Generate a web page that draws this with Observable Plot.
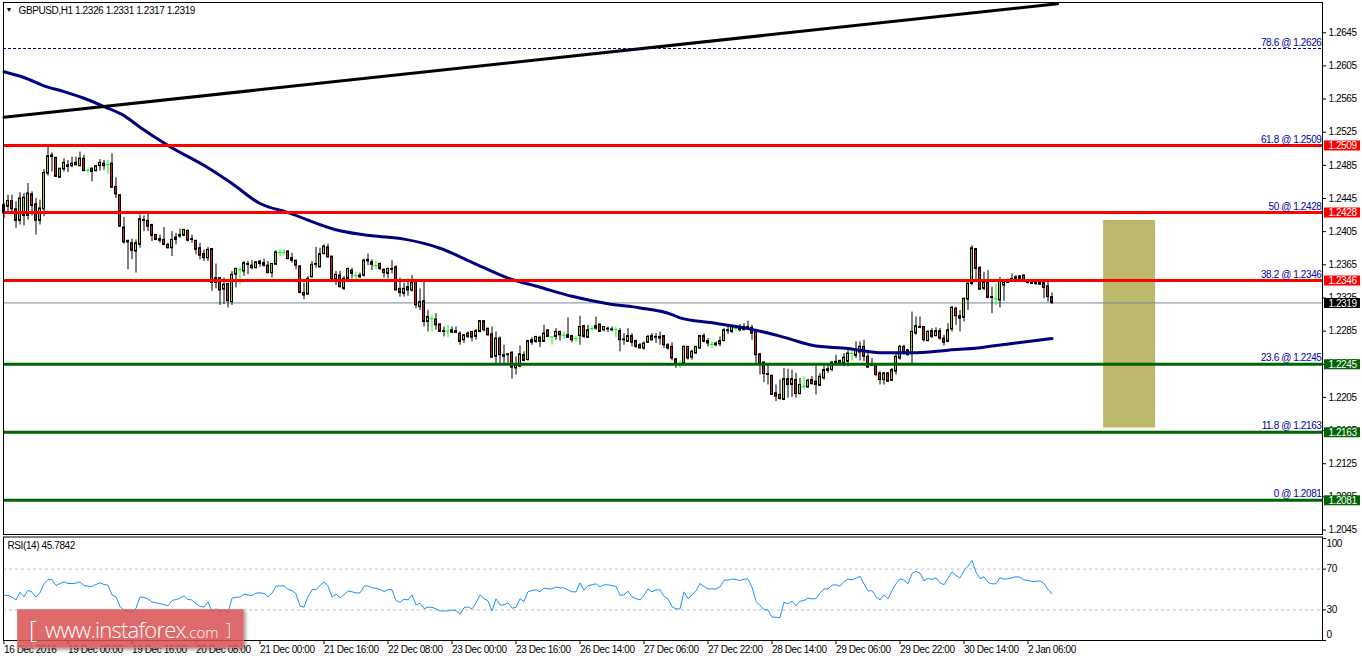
<!DOCTYPE html>
<html><head><meta charset="utf-8">
<script src="https://cdn.jsdelivr.net/npm/d3@7"></script>
<script src="https://cdn.jsdelivr.net/npm/@observablehq/plot@0.6"></script>
<style>
html,body{margin:0;padding:0;background:#fff;overflow:hidden}
#wrap{position:relative;width:1362px;height:661px}
svg{display:block}
#wm{position:absolute;left:17px;top:609px;width:227px;height:39px;box-sizing:border-box;background:rgba(218,82,84,.86);box-shadow:2px 2px 3px rgba(0,0,0,.35);border:1px solid rgba(255,255,255,.18);color:#fff;font-family:"Open Sans",sans-serif;white-space:nowrap}
#wm span{position:absolute;top:4px;line-height:30px}
</style></head><body>
<div id="wrap"><div id="main"></div><div id="rsi"></div>
<div id="wm"><span style="left:11px;font-size:24px;font-weight:300">[</span><span style="left:27px;font-size:22px;letter-spacing:-.75px;font-weight:300">www.instaforex<span style="position:static;font-size:15px;letter-spacing:0">.com</span></span><span style="left:208px;font-size:16px;font-weight:300">]</span></div>
</div>
<script>
// Candle values in pips: price = 1 + pips / 10000
const highs = [2439,2449,2449,2441,2452,2451,2463,2453,2445,2443,
2480,2507,2500,2495,2481,2493,2491,2495,2495,2501,
2497,2482,2482,2484,2492,2491,2491,2499,2470,2449,
2422,2394,2396,2395,2425,2424,2426,2414,2401,2401,
2410,2391,2405,2403,2408,2408,2407,2401,2394,2391,
2383,2386,2384,2366,2349,2349,2342,2357,2361,2361,
2369,2369,2370,2369,2370,2372,2369,2366,2382,2383,
2383,2382,2379,2370,2364,2343,2351,2369,2386,2385,
2389,2390,2375,2357,2357,2351,2361,2361,2356,2355,
2372,2378,2371,2369,2367,2360,2361,2370,2364,2349,
2343,2348,2352,2346,2336,2344,2310,2304,2306,2294,
2290,2292,2290,2290,2284,2280,2284,2284,2287,2298,
2297,2288,2290,2284,2278,2268,2258,2260,2254,2267,
2260,2273,2277,2278,2279,2292,2286,2278,2288,2285,
2284,2301,2280,2279,2303,2292,2292,2291,2302,2293,
2290,2290,2290,2289,2288,2282,2288,2282,2274,2270,
2272,2280,2282,2282,2284,2279,2270,2271,2252,2249,
2267,2266,2262,2266,2280,2282,2276,2272,2272,2278,
2288,2290,2292,2290,2293,2294,2297,2292,2284,2258,
2248,2244,2232,2220,2226,2240,2239,2238,2234,2228,
2230,2227,2230,2243,2234,2243,2244,2248,2256,2250,
2258,2262,2260,2272,2272,2274,2258,2252,2246,2236,
2235,2235,2240,2260,2268,2268,2262,2308,2302,2302,
2290,2286,2288,2289,2288,2280,2294,2315,2314,2310,
2325,2346,2388,2384,2363,2356,2358,2338,2342,2350,
2346,2348,2354,2352,2352,2353,2347,2347,2345,2346,2344,2344,2331];
const lows = [2421,2427,2429,2409,2413,2412,2419,2424,2401,2413,
2423,2472,2477,2471,2470,2477,2476,2482,2485,2483,
2478,2476,2465,2477,2478,2479,2474,2458,2445,2410,
2390,2359,2371,2355,2385,2405,2405,2393,2394,2391,
2388,2384,2375,2389,2397,2399,2393,2391,2377,2371,
2369,2369,2333,2336,2316,2317,2313,2316,2337,2341,
2351,2353,2359,2360,2362,2362,2354,2349,2365,2375,
2376,2371,2367,2359,2330,2323,2329,2349,2361,2361,
2377,2373,2345,2340,2337,2334,2346,2348,2347,2348,
2350,2364,2358,2359,2358,2349,2348,2354,2334,2326,
2326,2327,2332,2312,2310,2290,2284,2284,2286,2284,
2278,2277,2282,2282,2268,2270,2276,2272,2274,2283,
2284,2279,2252,2246,2246,2246,2246,2227,2232,2241,
2248,2249,2268,2270,2265,2272,2278,2268,2274,2273,
2275,2276,2271,2272,2268,2276,2276,2285,2286,2284,
2284,2283,2284,2277,2260,2268,2272,2266,2264,2264,
2262,2270,2273,2270,2268,2264,2262,2249,2240,2240,
2245,2250,2250,2257,2263,2271,2266,2264,2266,2266,
2272,2281,2282,2285,2284,2286,2287,2274,2246,2232,
2223,2220,2208,2200,2202,2202,2204,2205,2204,2208,
2214,2216,2220,2208,2218,2226,2234,2236,2244,2244,
2242,2242,2249,2252,2249,2248,2240,2242,2230,2220,
2220,2223,2224,2232,2250,2256,2255,2246,2280,2288,
2272,2272,2276,2278,2274,2267,2271,2284,2292,2284,
2296,2310,2340,2344,2334,2334,2324,2306,2316,2313,
2321,2343,2346,2346,2346,2345,2342,2342,2340,2340,2324,2320,2317];
const opens = [2427,2435,2442,2432,2418,2424,2424,2450,2438,2418,
2432,2475,2497,2494,2470,2480,2485,2484,2488,2484,
2493,2479,2481,2478,2484,2487,2486,2487,2459,2449,
2410,2394,2391,2381,2389,2419,2418,2413,2401,2396,
2395,2389,2385,2395,2401,2400,2406,2396,2394,2385,
2378,2373,2384,2349,2349,2335,2342,2320,2353,2359,
2357,2366,2364,2361,2366,2367,2364,2355,2365,2380,
2380,2381,2373,2370,2363,2331,2329,2350,2366,2362,
2378,2386,2375,2347,2352,2336,2348,2358,2352,2352,
2352,2371,2368,2364,2366,2359,2354,2360,2362,2336,
2330,2338,2334,2345,2314,2321,2296,2300,2299,2293,
2285,2285,2283,2285,2282,2274,2278,2284,2278,2284,
2297,2288,2281,2254,2276,2256,2257,2259,2240,2242,
2256,2250,2271,2272,2277,2272,2286,2278,2278,2284,
2280,2280,2279,2276,2279,2291,2277,2288,2288,2293,
2286,2288,2287,2287,2285,2275,2272,2279,2273,2268,
2264,2271,2279,2278,2278,2279,2268,2266,2251,2246,
2246,2266,2253,2258,2264,2279,2273,2269,2268,2269,
2273,2286,2284,2288,2288,2286,2290,2289,2284,2257,
2247,2233,2231,2210,2208,2202,2227,2220,2226,2209,
2218,2217,2226,2224,2219,2228,2239,2238,2248,2249,
2246,2248,2258,2255,2259,2266,2254,2244,2245,2234,
2226,2234,2225,2236,2252,2266,2262,2257,2282,2290,
2290,2273,2285,2279,2285,2276,2272,2287,2312,2303,
2301,2323,2342,2384,2361,2336,2344,2326,2324,2322,
2340,2344,2346,2348,2348,2352,2344,2344,2343,2344,2343,2339,2326];
const closes = [2437,2442,2432,2418,2445,2446,2451,2436,2418,2433,
2476,2496,2495,2471,2481,2488,2483,2487,2485,2493,
2478,2479,2477,2484,2488,2484,2486,2458,2450,2411,
2392,2392,2382,2391,2420,2418,2411,2400,2395,2394,
2389,2385,2395,2398,2399,2407,2394,2395,2383,2376,
2373,2383,2343,2343,2334,2341,2321,2353,2360,2359,
2367,2365,2361,2368,2369,2364,2355,2366,2380,2380,
2380,2372,2370,2364,2331,2328,2348,2365,2365,2378,
2387,2374,2347,2353,2338,2348,2360,2354,2352,2350,
2370,2369,2365,2364,2360,2355,2360,2359,2334,2331,
2336,2334,2344,2316,2320,2296,2302,2300,2292,2284,
2284,2285,2286,2283,2272,2280,2282,2277,2285,2297,
2286,2280,2253,2276,2256,2254,2256,2241,2244,2257,
2249,2273,2274,2278,2272,2282,2278,2278,2284,2280,
2280,2277,2274,2276,2290,2278,2286,2288,2291,2284,
2290,2287,2286,2287,2274,2274,2279,2271,2266,2264,
2270,2278,2274,2277,2276,2268,2264,2252,2246,2246,
2266,2252,2260,2266,2279,2272,2270,2269,2270,2273,
2286,2285,2290,2288,2286,2290,2288,2282,2256,2246,
2233,2232,2208,2206,2203,2227,2220,2227,2209,2220,
2218,2225,2221,2220,2230,2238,2237,2247,2246,2246,
2253,2258,2258,2262,2266,2254,2241,2243,2232,2226,
2234,2224,2238,2254,2266,2259,2256,2284,2291,2289,
2274,2284,2278,2285,2276,2271,2286,2313,2303,2300,
2324,2342,2385,2360,2335,2344,2325,2325,2324,2346,
2344,2343,2348,2350,2351,2346,2343,2342,2342,2341,2337,2326,2319];

// Moving average read at selected bars
const maBars = [0,5,10,15,20,25,30,34,41,51,57,64,71,84,92,100,109,117,126,134,142,151,159,167,169,177,186,194,202,211,219,227,236,244,252,262];
const maPips = [2598,2591,2581,2574,2566,2556,2545,2531,2509,2482,2463,2439,2428,2406,2400,2396,2385,2368,2349,2338,2327,2318,2313,2305,2301,2295,2288,2279,2268,2264,2259,2259,2262,2265,2270,2276];

// Trend line end points
const trendBars = [0,263.4];
const trendPips = [2543,2680];

// Fibonacci levels
const fibPct = ["78.6","61.8","50","38.2","23.6","11.8","0"];
const fibPrice = [1.2626,1.2509,1.2428,1.2346,1.2245,1.2163,1.2081];
const redLevels = [1.2509,1.2428,1.2346];
const greenLevels = [1.2245,1.2163,1.2081];
const lastPrice = 1.2319;

// Target box
const boxBars = [274.9,287.9];
const boxPrices = [1.2168,1.24185];

// Price axis
const priceTicks = [1.2645,1.2605,1.2565,1.2525,1.2485,1.2445,1.2405,1.2365,1.2325,1.2285,1.2245,1.2205,1.2165,1.2125,1.2085,1.2045];

// RSI(14)
const rsi = [44.1,44.4,42.5,39.8,47.4,42.8,49.3,47.4,42.8,46.7,55.6,59.5,59.8,53.9,55.9,57.5,55.9,55.9,56.2,57.5,53.9,53.3,53,54.9,56.6,54.9,54.3,44.7,42.8,33.3,30,29,28,31.6,42.8,42.1,40.8,37.9,36.9,36.2,35.2,33.9,39.2,40.2,41.5,43.8,40.2,39.8,35.9,33.6,32.6,37.9,28.4,31,28.4,30.6,27,41.5,42.5,42.5,45.4,44.7,44.1,46.4,46.7,46.1,42.8,46.4,53.3,53.6,53.6,50,49,45.7,33.9,32.6,43.1,49.7,50,53.9,57.5,53.3,42.5,45.4,41.8,44.7,48.7,
47.7,46.7,46.7,53.3,53.6,51.6,51.3,50,48,50,49.7,39.2,37.5,40.5,39.8,44.7,34.9,36.5,31.3,32.6,32.6,31,29,29,29,30,29.3,25.7,32,33,31,36.9,44.7,41.1,38.8,29,40.8,34.9,34.9,36.9,31.6,32.6,40.8,38.2,48,49,49.7,47.7,51.3,50.6,50.6,52.6,51.6,51.6,49.7,47.7,47.7,56.6,49.3,53.9,54.6,55.6,52.6,54.6,54.6,53.9,53,44.4,44.7,48.4,42.8,41.1,39.8,44.1,50.6,47.7,49.7,49.7,43.4,40.8,33.3,31,31,47.7,40.8,44.7,48.7,55.9,
53,50.6,50.6,50.6,52.6,59.2,59.2,60.2,59.8,58.8,60.2,60.2,52.3,38.5,34.2,30.3,30,23.1,22.8,22.4,37.5,35.9,38.5,33.9,38.5,39.2,41.5,40.8,41.1,46.7,50.6,50.6,54.3,54.6,53.3,57.9,60.2,59.5,61.1,63.1,55.6,48.4,49,42.8,39.8,44.7,40.8,49,55.6,60.5,59.2,55.6,65.7,67.7,66.1,58.5,61.1,59.8,61.5,56.6,54.6,61.1,67.4,63.8,61.5,68.4,73,78.5,67,60.5,62.5,56.9,55.6,55.6,61.5,60.2,60.5,61.5,62.5,62.1,59.5,58.8,57.9,57.9,58.5,55.9,50,45.8];
const rsiLevels = [70,30];
const rsiTicks = [100,70,30,0];

// Time axis
const timeBars = [0,16,32,48,64,80,96,112,128,144,160,176,192,208,224,240,256];
const timeLabels = ["16 Dec 2016","19 Dec 00:00","19 Dec 16:00","20 Dec 08:00","21 Dec 00:00","21 Dec 16:00","22 Dec 08:00","23 Dec 00:00","23 Dec 16:00","26 Dec 14:00","27 Dec 06:00","27 Dec 22:00","28 Dec 14:00","29 Dec 06:00","29 Dec 22:00","30 Dec 14:00","2 Jan 06:00"];

const price = p => 1 + p / 10000;
const bars = d3.range(highs.length);
const dojis = bars.filter(i => opens[i] === closes[i]);
const solids = bars.filter(i => opens[i] !== closes[i]);
const xDomain = [-0.125, 329.625];
const xEnd = xDomain[1];
const font = '"Liberation Sans",Arial,sans-serif';
const W = 1362;
const fmt = d => d.toFixed(4);
const chartStyle = {fontFamily: font, fontSize: "10px", letterSpacing: "-0.4px", background: "white", color: "black"};

const UP = "#9acd32", DOWN = "#c8201c", DOJI = "#00ff00";
const RED = "#ff0000", GREEN = "#006400";

const tagRule = (levels, color) => Plot.ruleY(levels, {y: d => d, x1: xEnd + 0.5, x2: xEnd + 9.5, stroke: color, strokeWidth: 10});
const tagText = levels => Plot.text(levels, {y: d => d, x: xEnd + 5, text: fmt, fill: "white", dy: 0.5});

const mainPlot = Plot.plot({
  width: W, height: 535,
  marginLeft: 3, marginRight: 40, marginTop: 2, marginBottom: 1,
  x: {domain: xDomain, axis: null},
  y: {domain: [1.20396, 1.26815]},
  style: chartStyle,
  marks: [
    Plot.axisY({anchor: "right", ticks: priceTicks, tickFormat: fmt, tickSize: 3, tickPadding: 3, label: null}),
    Plot.rect([0], {x1: () => boxBars[0], x2: () => boxBars[1], y1: () => boxPrices[0], y2: () => boxPrices[1], fill: "#bdb76b"}),
    Plot.ruleY([lastPrice], {stroke: "#778899", strokeWidth: 1}),
    Plot.ruleX(solids, {x: i => i, y1: i => price(lows[i]), y2: i => price(highs[i]), stroke: "black", strokeWidth: 1}),
    Plot.ruleX(dojis, {x: i => i, y1: i => price(lows[i]), y2: i => price(highs[i]), stroke: DOJI, strokeWidth: 1}),
    Plot.ruleY(dojis, {y: i => price(opens[i]), x1: i => i - 0.5, x2: i => i + 0.5, stroke: DOJI, strokeWidth: 1}),
    Plot.rect(solids, {x1: i => i - 0.25, x2: i => i + 0.25,
      y1: i => price(opens[i]), y2: i => price(closes[i]),
      fill: i => closes[i] > opens[i] ? UP : DOWN, stroke: "black", strokeWidth: 1}),
    Plot.line(maBars, {x: d => d, y: (d, i) => price(maPips[i]), stroke: "#000080", strokeWidth: 3, curve: "monotone-x"}),
    Plot.line(trendBars, {x: d => d, y: (d, i) => price(trendPips[i]), stroke: "black", strokeWidth: 3}),
    Plot.ruleY([fibPrice[0]], {stroke: "#000080", strokeWidth: 1, strokeDasharray: "3,2"}),
    Plot.ruleY(redLevels, {stroke: RED, strokeWidth: 3}),
    Plot.ruleY(greenLevels, {stroke: GREEN, strokeWidth: 3}),
    Plot.text(fibPrice, {y: d => d, x: xEnd - 0.25, dy: -6, textAnchor: "end", fill: "#0000a0",
      text: (d, i) => `${fibPct[i]} @ ${fmt(d)}`}),
    Plot.frame({stroke: "black"}),
    tagRule(redLevels, RED), tagRule(greenLevels, GREEN), tagRule([lastPrice], "black"),
    tagText(redLevels), tagText(greenLevels), tagText([lastPrice]),
    Plot.text(["\u25BC"], {frameAnchor: "top-left", dx: 2, dy: 5, fontSize: 7, fill: "black", textAnchor: "start"}),
    Plot.text(["GBPUSD,H1 1.2326 1.2331 1.2317 1.2319"], {frameAnchor: "top-left", dx: 15, dy: 4, fill: "black", textAnchor: "start"})
  ]
});
document.getElementById("main").append(mainPlot);

const rsiPlot = Plot.plot({
  width: W, height: 126,
  marginLeft: 3, marginRight: 40, marginTop: 1.5, marginBottom: 21,
  x: {domain: xDomain, axis: null},
  y: {domain: [0, 101.5]},
  style: chartStyle,
  marks: [
    Plot.axisX({anchor: "bottom", ticks: timeBars, tickFormat: d => timeLabels[timeBars.indexOf(d)], tickSize: 4, tickPadding: 1, textAnchor: "start", label: null}),
    Plot.axisY({anchor: "right", ticks: rsiTicks, tickFormat: () => "", tickSize: 3, label: null}),
    Plot.ruleY(rsiLevels, {stroke: "#c0c0c0", strokeWidth: 1, strokeDasharray: "3,3"}),
    Plot.line(rsi, {x: (d, i) => i, y: d => d, stroke: "#1e90ff", strokeWidth: 1}),
    Plot.frame({stroke: "black"}),
    Plot.text(rsiLevels, {y: d => d, x: xEnd + 1, text: String, fill: "black", textAnchor: "start"}),
    Plot.text([100], {y: d => d, x: xEnd + 1, dy: 5, text: String, fill: "black", textAnchor: "start"}),
    Plot.text([0], {y: d => d, x: xEnd + 1, dy: -6, text: String, fill: "black", textAnchor: "start"}),
    Plot.text(["RSI(14) 45.7842"], {frameAnchor: "top-left", dx: 4, dy: 5, fill: "black", textAnchor: "start"})
  ]
});
document.getElementById("rsi").append(rsiPlot);
</script></body></html>
